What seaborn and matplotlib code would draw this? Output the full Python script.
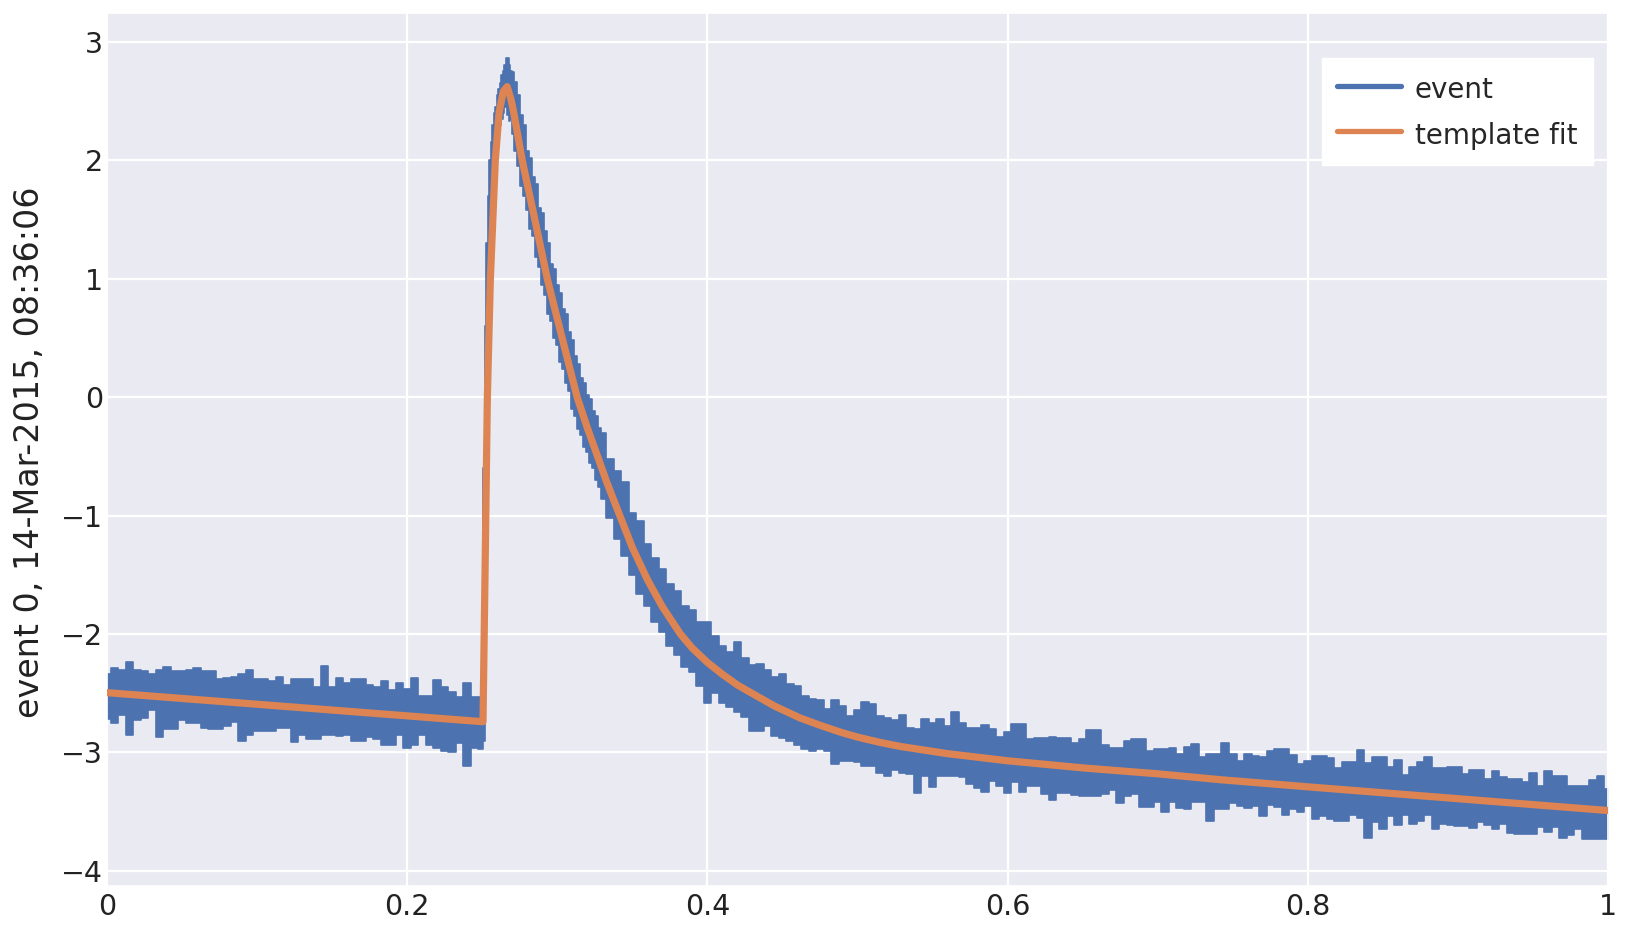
import numpy as np
import pandas as pd
import matplotlib
matplotlib.use("Agg")
import matplotlib.pyplot as plt
from matplotlib.lines import Line2D
import seaborn as sns

# ---------------- data ----------------
# template fit curve
fit_x = [0.0, 0.25, 0.2505, 0.2520, 0.2534, 0.2554, 0.2587, 0.2612, 0.2640, 0.2666,
         0.2690, 0.2710, 0.2766, 0.2850, 0.2933, 0.300, 0.3132, 0.320, 0.3254, 0.333,
         0.341, 0.350, 0.360, 0.370, 0.382, 0.390, 0.400, 0.410, 0.420, 0.431, 0.445,
         0.462, 0.475, 0.489, 0.500, 0.515, 0.529, 0.560, 0.600, 0.650, 0.700, 0.742,
         0.800, 0.850, 0.900, 0.950, 1.0]
fit_y = [-2.495, -2.74, -2.74, -1.35, 0.0, 1.0, 2.0, 2.4, 2.58, 2.62,
         2.52, 2.40, 2.0, 1.5, 1.0, 0.66, 0.0, -0.26, -0.45, -0.72,
         -0.98, -1.27, -1.54, -1.77, -2.0, -2.12, -2.24, -2.34, -2.43, -2.51, -2.61,
         -2.71, -2.77, -2.83, -2.87, -2.915, -2.95, -3.01, -3.07, -3.13, -3.18, -3.23,
         -3.29, -3.34, -3.39, -3.44, -3.49]

# event trace: sample positions with upper / lower envelope of the noisy signal
ev_x = ([round(0.005 * i, 3) for i in range(0, 51)]
        + [0.251, 0.252, 0.253, 0.254, 0.255, 0.256, 0.257, 0.258, 0.259, 0.260,
           0.261, 0.262, 0.263, 0.264, 0.265, 0.266, 0.267, 0.268, 0.269]
        + [round(0.270 + 0.002 * i, 3) for i in range(0, 31)]
        + [round(0.335 + 0.005 * i, 3) for i in range(0, 134)])

ev_hi = [
    # 0.000 - 0.250
    -2.34, -2.29, -2.30, -2.24, -2.30, -2.31, -2.34, -2.30, -2.28, -2.31,
    -2.31, -2.30, -2.29, -2.31, -2.31, -2.38, -2.37, -2.36, -2.34, -2.30,
    -2.38, -2.38, -2.40, -2.36, -2.43, -2.38, -2.38, -2.38, -2.45, -2.27,
    -2.45, -2.37, -2.41, -2.38, -2.38, -2.43, -2.45, -2.40, -2.47, -2.41,
    -2.46, -2.37, -2.52, -2.52, -2.39, -2.45, -2.49, -2.53, -2.41, -2.53,
    -2.53,
    # rise 0.251 - 0.269
    -0.60, 0.60, 1.30, 1.70, 2.00, 2.15, 2.30, 2.40, 2.45, 2.55,
    2.60, 2.65, 2.72, 2.75, 2.80, 2.86, 2.86, 2.80, 2.75,
    # decay 0.270 - 0.330
    2.74, 2.66, 2.55, 2.38, 2.30, 2.08, 2.02, 1.86, 1.80, 1.60,
    1.55, 1.40, 1.30, 1.12, 1.08, 0.95, 0.88, 0.74, 0.70, 0.55,
    0.48, 0.35, 0.28, 0.16, 0.12, 0.02, -0.02, -0.12, -0.16, -0.26,
    -0.30,
    # 0.335 - 0.460
    -0.52, -0.62, -0.72, -0.98, -1.05, -1.24, -1.36, -1.45, -1.58, -1.64,
    -1.76, -1.80, -1.90, -1.90, -2.02, -2.10, -2.15, -2.07, -2.20, -2.26,
    -2.25, -2.30, -2.36, -2.34, -2.42, -2.44,
    # 0.465 - 0.740
    -2.52, -2.55, -2.56, -2.63, -2.56, -2.61, -2.69, -2.64, -2.57, -2.59,
    -2.69, -2.71, -2.73, -2.68, -2.79, -2.80, -2.72, -2.75, -2.72, -2.78,
    -2.66, -2.75, -2.79, -2.79, -2.77, -2.80, -2.87, -2.83, -2.76, -2.76,
    -2.89, -2.88, -2.88, -2.87, -2.88, -2.88, -2.92, -2.89, -2.81, -2.81,
    -2.94, -2.96, -2.96, -2.90, -2.89, -2.89, -2.99, -2.97, -2.97, -2.96,
    -3.01, -2.95, -2.93, -3.04, -3.01, -3.01,
    # 0.745 - 1.000
    -2.92, -3.01, -3.07, -3.01, -3.03, -3.04, -2.99, -2.97, -2.97, -3.02,
    -3.10, -3.07, -3.03, -3.03, -3.05, -3.13, -3.08, -3.08, -2.98, -3.09,
    -3.04, -3.04, -3.12, -3.06, -3.19, -3.12, -3.08, -3.04, -3.13, -3.13,
    -3.12, -3.12, -3.18, -3.15, -3.15, -3.22, -3.16, -3.21, -3.22, -3.22,
    -3.25, -3.17, -3.28, -3.16, -3.20, -3.20, -3.28, -3.28, -3.28, -3.23,
    -3.20, -3.31,
]

ev_lo = [
    # 0.000 - 0.250
    -2.72, -2.75, -2.68, -2.85, -2.73, -2.71, -2.64, -2.87, -2.80, -2.80,
    -2.73, -2.75, -2.75, -2.79, -2.80, -2.80, -2.78, -2.74, -2.90, -2.85,
    -2.82, -2.82, -2.82, -2.79, -2.79, -2.91, -2.85, -2.89, -2.89, -2.85,
    -2.85, -2.86, -2.85, -2.90, -2.90, -2.87, -2.89, -2.94, -2.94, -2.85,
    -2.96, -2.94, -2.85, -2.94, -2.96, -2.99, -3.00, -2.92, -3.11, -2.96,
    -2.97,
    # rise 0.251 - 0.269
    -2.90, -1.50, -0.30, 0.50, 1.00, 1.35, 1.65, 1.85, 2.00, 2.10,
    2.25, 2.30, 2.35, 2.40, 2.45, 2.45, 2.38, 2.33, 2.35,
    # decay 0.270 - 0.330
    2.22, 2.08, 1.95, 1.78, 1.70, 1.58, 1.42, 1.36, 1.18, 1.10,
    0.95, 0.86, 0.70, 0.64, 0.50, 0.44, 0.30, 0.24, 0.12, 0.05,
    -0.10, -0.16, -0.27, -0.32, -0.42, -0.46, -0.56, -0.60, -0.70, -0.76,
    -0.86,
    # 0.335 - 0.460
    -1.02, -1.20, -1.34, -1.50, -1.66, -1.76, -1.90, -1.98, -2.10, -2.18,
    -2.28, -2.32, -2.44, -2.58, -2.50, -2.58, -2.62, -2.66, -2.70, -2.82,
    -2.82, -2.78, -2.86, -2.88, -2.90, -2.94,
    # 0.465 - 0.740
    -2.97, -2.99, -2.97, -2.99, -3.10, -3.07, -3.07, -3.08, -3.11, -3.11,
    -3.17, -3.20, -3.15, -3.17, -3.18, -3.34, -3.20, -3.29, -3.20, -3.20,
    -3.20, -3.21, -3.27, -3.30, -3.33, -3.24, -3.28, -3.34, -3.25, -3.33,
    -3.28, -3.28, -3.35, -3.40, -3.34, -3.34, -3.36, -3.37, -3.37, -3.37,
    -3.35, -3.32, -3.43, -3.37, -3.35, -3.46, -3.46, -3.42, -3.50, -3.42,
    -3.47, -3.48, -3.42, -3.42, -3.58, -3.48,
    # 0.745 - 1.000
    -3.48, -3.43, -3.45, -3.47, -3.45, -3.54, -3.44, -3.46, -3.53, -3.48,
    -3.50, -3.45, -3.56, -3.54, -3.56, -3.58, -3.58, -3.53, -3.55, -3.72,
    -3.59, -3.65, -3.54, -3.61, -3.53, -3.60, -3.58, -3.53, -3.65, -3.60,
    -3.61, -3.62, -3.62, -3.64, -3.59, -3.61, -3.65, -3.60, -3.68, -3.69,
    -3.69, -3.69, -3.63, -3.67, -3.63, -3.72, -3.70, -3.65, -3.73, -3.73,
    -3.73, -3.73,
]

x_ticks = [0, 0.2, 0.4, 0.6, 0.8, 1.0]
x_tick_labels = ["0", "0.2", "0.4", "0.6", "0.8", "1"]
y_ticks = [-4, -3, -2, -1, 0, 1, 2, 3]
y_label = "event 0, 14-Mar-2015, 08:36:06"
series_names = ["event", "template fit"]

# ---------------- style ----------------
sns.set_theme(style="darkgrid", rc={"grid.linewidth": 1.6, "axes.facecolor": "#EAEAF2"})
plt.rcParams["font.family"] = ["DejaVu Sans"]
pal = sns.color_palette("deep")
c_event, c_fit = pal[0], pal[1]

fig = plt.figure(figsize=(16.30, 9.46), dpi=100)
ax = fig.add_axes([107 / 1630, 1 - 886 / 946, (1608 - 107) / 1630, (886 - 12.5) / 946])

ev = pd.DataFrame({"x": ev_x, "hi": ev_hi, "lo": ev_lo})
ax.fill_between(ev["x"], ev["lo"], ev["hi"], step="mid", color=c_event,
                linewidth=1.2, edgecolor=c_event, zorder=2)

fit = pd.DataFrame({"x": fit_x, "y": fit_y})
sns.lineplot(data=fit, x="x", y="y", ax=ax, color=c_fit, linewidth=5.2,
             sort=False, estimator=None, zorder=3, legend=False)

ax.set_xlim(0, 1)
ax.set_ylim(-4.127, 3.246)
ax.set_xticks(x_ticks)
ax.set_xticklabels(x_tick_labels)
ax.set_yticks(y_ticks)
ax.tick_params(axis="both", labelsize=20.5, length=0, colors="#222222")
ax.tick_params(axis="x", pad=5)
ax.tick_params(axis="y", pad=3)
ax.set_xlabel("")
ax.set_ylabel("")
fig.text(30 / 1630, 1 - 452 / 946, y_label, rotation=90, ha="center", va="center",
         fontsize=24, color="#222222")

handles = [Line2D([], [], color=c_event, lw=3.8, label=series_names[0]),
           Line2D([], [], color=c_fit, lw=3.8, label=series_names[1])]
leg = ax.legend(handles=handles, loc="upper right", bbox_to_anchor=(0.990, 0.948),
                borderaxespad=0, fontsize=20, frameon=True, fancybox=False,
                framealpha=1, handlelength=2.3, handletextpad=0.5, handleheight=1.3,
                borderpad=0.56, labelspacing=0.55)
leg.get_frame().set_facecolor("white")
leg.get_frame().set_edgecolor("white")

fig.savefig("out.png", dpi=100)
